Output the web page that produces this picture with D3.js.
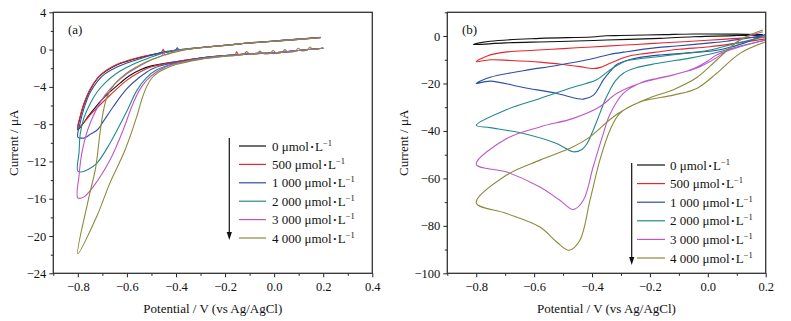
<!DOCTYPE html>
<html><head><meta charset="utf-8">
<script src="https://cdn.jsdelivr.net/npm/d3@7"></script>
<style>
html,body{margin:0;padding:0;background:#fff;}
svg text{font-family:"Liberation Serif","Times New Roman",serif;fill:#111;}
</style></head>
<body><svg id="c" width="791" height="321"></svg>
<script>
// ---------- DATA ----------
const concLabels = ["0", "500", "1 000", "2 000", "3 000", "4 000"];
const seriesColors = ["#111111", "#e8262b", "#2c4fa3", "#23898c", "#bd58c6", "#8c8a3c"];

// Panel (a): [potential V, current µA]
const cvA0 = [[0.2,0.15],[0.1,-0.1],[0,-0.35],[-0.1,-0.45],[-0.2,-0.65],[-0.3,-0.9],[-0.4,-1.3],[-0.45,-1.5],[-0.5,-1.75],[-0.547,-2.19],[-0.59,-2.8],[-0.628,-3.6],[-0.696,-5.2],[-0.75,-6.9],[-0.8,-8.6],
  [-0.79,-7.2],[-0.778,-6.1],[-0.75,-4.3],[-0.72,-3.1],[-0.696,-2.5],[-0.66,-1.9],[-0.628,-1.5],[-0.58,-1.1],[-0.533,-0.76],[-0.45,-0.3],[-0.4,-0.1],[-0.3,0.2],[-0.2,0.45],[-0.1,0.7],[0,0.9],[0.1,1.1],[0.19,1.3]];
const cvA1 = [[0.2,0.15],[0.1,-0.1],[0,-0.35],[-0.1,-0.45],[-0.145,-0.55],[-0.153,-0.25],[-0.16,-0.6],[-0.2,-0.65],[-0.3,-0.9],[-0.4,-1.3],[-0.45,-1.55],[-0.5,-1.85],[-0.547,-2.4],[-0.601,-3.3],[-0.669,-4.9],[-0.737,-6.66],[-0.8,-8.4],
  [-0.79,-7.1],[-0.778,-6.0],[-0.75,-4.25],[-0.72,-3.05],[-0.696,-2.45],[-0.66,-1.85],[-0.628,-1.45],[-0.58,-1.05],[-0.533,-0.72],[-0.46,-0.3],[-0.452,0.0],[-0.445,-0.28],[-0.4,-0.08],[-0.3,0.22],[-0.2,0.47],[-0.1,0.72],[0,0.92],[0.1,1.12],[0.19,1.32]];
const cvA2 = [[0.2,0.15],[0.1,-0.1],[0,-0.35],[-0.1,-0.45],[-0.2,-0.65],[-0.3,-0.9],[-0.4,-1.4],[-0.45,-1.65],[-0.5,-2.1],[-0.55,-3.0],[-0.6,-4.2],[-0.655,-6.1],[-0.696,-7.7],[-0.72,-8.6],[-0.75,-9.1],[-0.77,-9.45],[-0.785,-9.5],[-0.8,-9.4],
  [-0.79,-7.8],[-0.775,-6.3],[-0.75,-4.6],[-0.72,-3.4],[-0.69,-2.6],[-0.65,-2.0],[-0.6,-1.45],[-0.55,-1.0],[-0.5,-0.6],[-0.45,-0.25],[-0.4,0.0],[-0.395,0.2],[-0.388,0.0],[-0.3,0.22],[-0.2,0.47],[-0.1,0.72],[0,0.92],[0.1,1.12],[0.19,1.3]];
const cvA3 = [[0.2,0.15],[0.1,-0.1],[0,-0.35],[-0.1,-0.45],[-0.2,-0.65],[-0.3,-0.95],[-0.4,-1.45],[-0.44,-1.75],[-0.48,-2.2],[-0.52,-3.0],[-0.56,-4.4],[-0.6,-6.6],[-0.669,-10.05],[-0.723,-12.2],[-0.76,-12.9],[-0.78,-13.1],[-0.8,-13.05],
  [-0.795,-11.0],[-0.79,-9.0],[-0.775,-7.3],[-0.75,-5.8],[-0.72,-4.5],[-0.69,-3.6],[-0.65,-2.7],[-0.6,-1.9],[-0.55,-1.3],[-0.5,-0.8],[-0.45,-0.35],[-0.4,-0.05],[-0.3,0.22],[-0.2,0.47],[-0.1,0.72],[0,0.92],[0.1,1.12],[0.19,1.3]];
const cvA4 = [[0.2,0.15],[0.1,-0.1],[0,-0.35],[-0.1,-0.45],[-0.2,-0.7],[-0.3,-1.0],[-0.4,-1.5],[-0.44,-1.85],[-0.48,-2.4],[-0.52,-3.3],[-0.55,-4.4],[-0.58,-6.1],[-0.615,-8.6],[-0.669,-11.85],[-0.737,-14.7],[-0.775,-15.8],[-0.8,-15.9],
  [-0.795,-13.5],[-0.785,-11.3],[-0.77,-9.5],[-0.75,-7.9],[-0.72,-6.2],[-0.69,-4.9],[-0.65,-3.7],[-0.6,-2.6],[-0.55,-1.8],[-0.5,-1.1],[-0.455,-0.6],[-0.45,-0.3],[-0.445,-0.55],[-0.4,-0.15],[-0.3,0.2],[-0.2,0.45],[-0.1,0.7],[0,0.9],[0.1,1.1],[0.19,1.3]];
const cvA5 = [[0.2,0.2],[0.158,0.02],[0.146,0.28],[0.134,-0.04],[0.11,-0.12],[0.098,0.14],[0.086,-0.16],[0.056,-0.25],[0.044,0.0],[0.032,-0.29],[0.008,-0.34],[-0.004,-0.1],[-0.016,-0.38],[-0.046,-0.41],[-0.058,-0.16],[-0.07,-0.43],[-0.1,-0.47],[-0.112,-0.22],[-0.124,-0.5],[-0.2,-0.72],[-0.3,-1.05],[-0.4,-1.6],[-0.44,-2.0],[-0.47,-2.4],[-0.5,-3.1],[-0.52,-4.0],[-0.54,-5.4],[-0.56,-7.2],[-0.608,-10.8],[-0.669,-14.3],[-0.723,-17.9],[-0.8,-21.9],
  [-0.757,-16.1],[-0.727,-12.6],[-0.71,-9.0],[-0.696,-6.6],[-0.68,-5.0],[-0.65,-3.7],[-0.6,-2.5],[-0.55,-1.7],[-0.5,-1.1],[-0.45,-0.6],[-0.4,-0.25],[-0.35,0.05],[-0.3,0.2],[-0.2,0.45],[-0.1,0.7],[0,0.9],[0.1,1.1],[0.19,1.25]];

// Panel (b)
const cvB0 = [[0.19,0.4],[0.1,0.2],[-0.05,-0.3],[-0.165,-1.0],[-0.35,-1.7],[-0.51,-2.3],[-0.58,-2.5],[-0.7,-2.9],[-0.81,-3.6],
  [-0.752,-2.2],[-0.58,-1.0],[-0.4,-0.4],[-0.35,0.1],[-0.3,0.2],[-0.15,0.6],[-0.05,0.85],[0.1,0.8],[0.19,0.6]];
const cvB1 = [[0.2,-1.2],[0.1,-3.0],[0.007,-4.5],[-0.1,-5.6],[-0.165,-6.6],[-0.22,-7.4],[-0.28,-8.7],[-0.338,-11.5],[-0.37,-13.2],[-0.396,-13.7],[-0.442,-12.9],[-0.5,-12.0],[-0.58,-11.0],[-0.68,-10.3],[-0.752,-10.0],[-0.8,-10.8],
  [-0.76,-8.3],[-0.7,-6.8],[-0.6,-6.0],[-0.5,-5.3],[-0.4,-4.6],[-0.3,-3.9],[-0.2,-3.2],[-0.1,-2.5],[0,-1.8],[0.1,-1.0],[0.2,-0.3]];
const cvB2 = [[0.2,0.8],[0.122,-3.1],[0.05,-5.6],[0.007,-6.4],[-0.1,-7.4],[-0.165,-8.0],[-0.234,-9.0],[-0.28,-10.3],[-0.315,-12.0],[-0.338,-15.0],[-0.361,-18.5],[-0.38,-22.5],[-0.396,-25.0],[-0.43,-26.6],[-0.453,-26.3],[-0.522,-24.2],[-0.637,-21.7],[-0.752,-19.0],[-0.8,-20.0],
  [-0.752,-17.4],[-0.637,-14.6],[-0.522,-12.4],[-0.407,-9.8],[-0.34,-7.8],[-0.28,-6.6],[-0.177,-4.9],[-0.108,-4.2],[0,-3.0],[0.065,-2.2],[0.12,-1.2],[0.2,0.4]];
const cvB3 = [[0.2,-1.7],[0.12,-4.0],[0.053,-6.2],[0,-7.8],[-0.062,-9.3],[-0.177,-11.6],[-0.25,-13.5],[-0.292,-15.7],[-0.32,-19.0],[-0.338,-22.7],[-0.355,-27.0],[-0.373,-32.6],[-0.396,-39.7],[-0.418,-45.5],[-0.435,-47.8],[-0.465,-48.8],[-0.522,-45.3],[-0.637,-41.1],[-0.752,-38.6],[-0.8,-37.6],
  [-0.695,-31.0],[-0.58,-26.3],[-0.465,-21.6],[-0.42,-20.0],[-0.384,-18.4],[-0.338,-14.3],[-0.3,-11.5],[-0.28,-10.4],[-0.165,-8.6],[-0.05,-6.9],[0.007,-5.9],[0.1,-3.0],[0.2,-0.3]];
const cvB4 = [[0.2,-1.7],[0.111,-4.5],[0.03,-8.0],[0.0,-10.5],[-0.05,-13.8],[-0.108,-16.0],[-0.177,-17.9],[-0.223,-19.3],[-0.292,-24.2],[-0.338,-33.0],[-0.361,-41.1],[-0.396,-55.1],[-0.43,-69.2],[-0.465,-73.1],[-0.511,-69.2],[-0.58,-63.6],[-0.695,-57.3],[-0.8,-54.1],
  [-0.695,-43.2],[-0.58,-38.3],[-0.465,-34.7],[-0.373,-29.8],[-0.315,-24.2],[-0.234,-19.9],[-0.119,-16.4],[-0.027,-12.9],[0.053,-7.3],[0.111,-1.7],[0.19,1.8]];
const cvB5 = [[0.2,-2.4],[0.111,-7.3],[0.031,-15.7],[-0.038,-22.1],[-0.119,-24.9],[-0.234,-27.8],[-0.304,-32.6],[-0.338,-39.7],[-0.373,-52.3],[-0.407,-69.2],[-0.442,-86.1],[-0.479,-90.3],[-0.522,-86.8],[-0.58,-80.5],[-0.695,-74.8],[-0.8,-70.3],
  [-0.695,-58.6],[-0.58,-52.3],[-0.465,-46.7],[-0.407,-42.5],[-0.327,-34.1],[-0.258,-29.1],[-0.2,-26.0],[-0.119,-22.6],[-0.038,-17.5],[0.031,-10.1],[0.111,-1.7],[0.19,2.5]];

const seriesA = [cvA0, cvA1, cvA2, cvA3, cvA4, cvA5];
const seriesB = [cvB0, cvB1, cvB2, cvB3, cvB4, cvB5];

const xTicksA = [-0.8, -0.6, -0.4, -0.2, 0.0, 0.2, 0.4];
const xMinorA = [-0.9, -0.7, -0.5, -0.3, -0.1, 0.1, 0.3];
const yTicksA = [4, 0, -4, -8, -12, -16, -20, -24];
const yMinorA = [2, -2, -6, -10, -14, -18, -22];
const xTicksB = [-0.8, -0.6, -0.4, -0.2, 0.0, 0.2];
const xMinorB = [-0.9, -0.7, -0.5, -0.3, -0.1, 0.1];
const yTicksB = [0, -20, -40, -60, -80, -100];
const yMinorB = [10, -10, -30, -50, -70, -90];

const xTitle = "Potential / V (vs Ag/AgCl)";
const yTitle = "Current / μA";

// ---------- DRAW ----------
const svg = d3.select("#c");

function panel(cfg) {
  const {left, right, top, bottom, xDom, yDom, xT, xM, yT, yM, yFmt, series, tag, leg} = cfg;
  const x = d3.scaleLinear().domain(xDom).range([left, right]);
  const y = d3.scaleLinear().domain(yDom).range([bottom, top]);
  const g = svg.append("g");

  const line = d3.line().x(d => x(d[0])).y(d => y(d[1])).curve(d3.curveCatmullRom.alpha(0.5));
  const clipId = "clip" + tag.replace(/\W/g, "");
  svg.append("clipPath").attr("id", clipId).append("rect")
    .attr("x", left).attr("y", top).attr("width", right - left).attr("height", bottom - top);
  const cg = g.append("g").attr("clip-path", `url(#${clipId})`);
  series.forEach((s, k) => {
    cg.append("path").attr("d", line(s)).attr("fill", "none")
      .attr("stroke", seriesColors[k]).attr("stroke-width", 1.1);
  });

  // axes
  const xa = g.append("g").attr("transform", `translate(0,${bottom})`)
    .call(d3.axisBottom(x).tickValues(xT).tickSize(4).tickPadding(5).tickFormat(d3.format(".1f")));
  const xm = g.append("g").attr("transform", `translate(0,${bottom})`)
    .call(d3.axisBottom(x).tickValues(xM).tickSize(2.5).tickFormat(""));
  const ya = g.append("g").attr("transform", `translate(${left},0)`)
    .call(d3.axisLeft(y).tickValues(yT).tickSize(4).tickPadding(3).tickFormat(yFmt));
  const ym = g.append("g").attr("transform", `translate(${left},0)`)
    .call(d3.axisLeft(y).tickValues(yM).tickSize(2.5).tickFormat(""));
  [xa, xm, ya, ym].forEach(a => {
    a.select(".domain").remove();
    a.selectAll("line").attr("stroke", "#222").attr("stroke-width", 1);
    a.selectAll("text").attr("font-size", 12.5).attr("font-family", '"Liberation Serif", serif').attr("fill", "#111");
  });

  g.append("rect").attr("x", left).attr("y", top).attr("width", right - left).attr("height", bottom - top)
    .attr("fill", "none").attr("stroke", "#333").attr("stroke-width", 1.3);

  g.append("text").attr("x", (left + right) / 2).attr("y", 313).attr("text-anchor", "middle")
    .attr("font-size", 13).text(xTitle);
  g.append("text").attr("transform", `translate(${cfg.yTitleX},${(top + bottom) / 2}) rotate(-90)`)
    .attr("text-anchor", "middle").attr("font-size", 13).text(yTitle);
  g.append("text").attr("x", cfg.tagX).attr("y", 34).attr("font-size", 13).text(tag);

  // legend
  const lg = g.append("g");
  lg.append("line").attr("x1", leg.ax).attr("x2", leg.ax).attr("y1", leg.ay0).attr("y2", leg.ay1 - 6)
    .attr("stroke", "#111").attr("stroke-width", 1.2);
  lg.append("path").attr("d", `M${leg.ax - 2.6},${leg.ay1 - 8} L${leg.ax + 2.6},${leg.ay1 - 8} L${leg.ax},${leg.ay1} Z`).attr("fill", "#111");
  concLabels.forEach((c, k) => {
    const yy = leg.y0 + k * leg.dy;
    lg.append("line").attr("x1", leg.lx0).attr("x2", leg.lx1).attr("y1", yy).attr("y2", yy)
      .attr("stroke", seriesColors[k]).attr("stroke-width", 1.2);
    const t = lg.append("text").attr("x", leg.tx).attr("y", yy + 4.5).attr("font-size", 13);
    t.append("tspan").text(c + " μmol");
    t.append("tspan").attr("font-size", 9).attr("dx", 1.5).attr("dy", -1).text("•");
    t.append("tspan").attr("dx", 1.5).attr("dy", 1).text("L");
    t.append("tspan").attr("dy", -5).attr("font-size", 8.5).text("−1");
  });
}

panel({left: 53.3, right: 372.3, top: 12.3, bottom: 273.3, xDom: [-0.9, 0.4], yDom: [-24, 4],
  xT: xTicksA, xM: xMinorA, yT: yTicksA, yM: yMinorA, yFmt: d3.format("d"), series: seriesA, tag: "(a)",
  tagX: 68, yTitleX: 18,
  leg: {ax: 229.3, ay0: 138, ay1: 240, lx0: 239, lx1: 266, tx: 272, y0: 146, dy: 18.4}});

panel({left: 447.3, right: 765.7, top: 12.3, bottom: 273.3, xDom: [-0.9, 0.2], yDom: [-100, 10],
  xT: xTicksB, xM: xMinorB, yT: yTicksB, yM: yMinorB, yFmt: d3.format("d"), series: seriesB, tag: "(b)",
  tagX: 462, yTitleX: 408,
  leg: {ax: 631.7, ay0: 163, ay1: 265, lx0: 637, lx1: 665, tx: 670, y0: 165, dy: 18.6}});
</script></body></html>
